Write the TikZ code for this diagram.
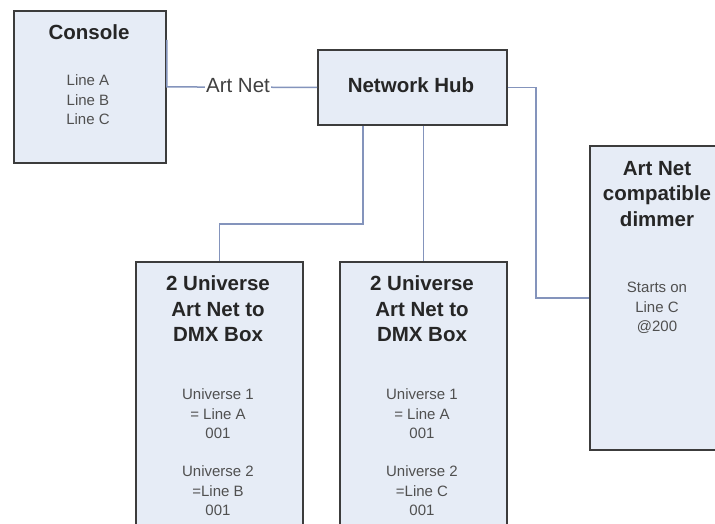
\documentclass[tikz,border=0pt]{standalone}
\usepackage{fontspec}
\setmainfont{Liberation Sans}
\definecolor{boxfill}{HTML}{E6ECF6}
\definecolor{boxline}{HTML}{3C3C3C}
\definecolor{wire}{HTML}{8494BC}
\definecolor{txt}{HTML}{505050}
\begin{document}
\begin{tikzpicture}[x=1pt,y=-1pt,
  box/.style={draw=boxline, line width=1.8pt, fill=boxfill, inner sep=0pt, anchor=north west},
  conn/.style={draw=wire, line width=1.5pt},
  ttl/.style={font=\fontsize{20.5}{25.5}\selectfont\bfseries, text=black!85, align=center, inner sep=0pt},
  sml/.style={font=\fontsize{15}{19.5}\selectfont, text=txt, align=center, inner sep=0pt}]
\clip (0,0) rectangle (715,524);
\fill[white] (0,0) rectangle (715,524);
% boxes
\node[box, minimum width=152pt, minimum height=152pt] (console) at (13,10) {};
\node[box, minimum width=189pt, minimum height=75pt] (hub) at (317,49) {};
\node[box, minimum width=167pt, minimum height=290pt] (box1) at (135,261) {};
\node[box, minimum width=167pt, minimum height=290pt] (box2) at (339,261) {};
\node[box, minimum width=136pt, minimum height=304pt] (dimmer) at (589,145) {};
% connectors
\draw[conn] ([yshift=-30pt]console.north east) -- (console.east) -- (hub.west);
\node[sml, font=\fontsize{20.5}{24}\selectfont, text=black!75, fill=white, inner xsep=1pt, inner ysep=2pt] (artnet) at (238,86) {Art Net};
\draw[conn] (hub.east) -- ++(28,0) |- (dimmer.west);
\draw[conn] ([xshift=-49.5pt]hub.south) -- ++(0,98) -| (box1.north);
\draw[conn] (hub.south -| box2.north) -- (box2.north);
% texts
\node[ttl] (tc) at (89,32) {Console};
\node[sml] (tcl) at (88,100) {Line A\\Line B\\Line C};
\node[ttl] (th) at (411,85) {Network Hub};
\node[ttl] (t1) at (218,309) {2 Universe\\Art Net to\\DMX Box};
\node[sml] (t1a) at (218,414) {Universe 1\\= Line A\\001};
\node[sml] (t1b) at (218,491) {Universe 2\\=Line B\\001};
\node[ttl] (t2) at (422,309) {2 Universe\\Art Net to\\DMX Box};
\node[sml] (t2a) at (422,414) {Universe 1\\= Line A\\001};
\node[sml] (t2b) at (422,491) {Universe 2\\=Line C\\001};
\node[ttl] (td) at (657,194) {Art Net\\compatible\\dimmer};
\node[sml] (tda) at (657,308) {Starts on\\Line C\\@200};
\end{tikzpicture}
\end{document}
